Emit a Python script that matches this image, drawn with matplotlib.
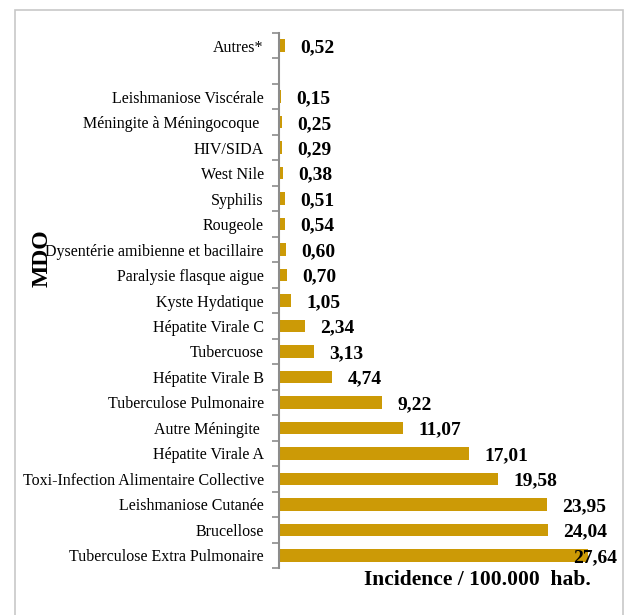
import matplotlib
matplotlib.use("Agg")
import matplotlib.pyplot as plt
from matplotlib.patches import Rectangle
import numpy as np

categories = [
    "Autres*", "",
    "Leishmaniose Viscérale", "Méningite à Méningocoque ", "HIV/SIDA", "West Nile",
    "Syphilis", "Rougeole", "Dysentérie amibienne et bacillaire", "Paralysie flasque aigue",
    "Kyste Hydatique", "Hépatite Virale C", "Tubercuose", "Hépatite Virale B",
    "Tuberculose Pulmonaire", "Autre Méningite ", "Hépatite Virale A",
    "Toxi-Infection Alimentaire Collective", "Leishmaniose Cutanée", "Brucellose",
    "Tuberculose Extra Pulmonaire",
]
values = [
    0.52, None,
    0.15, 0.25, 0.29, 0.38,
    0.51, 0.54, 0.60, 0.70,
    1.05, 2.34, 3.13, 4.74,
    9.22, 11.07, 17.01,
    19.58, 23.95, 24.04,
    27.64,
]
value_labels = [
    "0,52", "",
    "0,15", "0,25", "0,29", "0,38",
    "0,51", "0,54", "0,60", "0,70",
    "1,05", "2,34", "3,13", "4,74",
    "9,22", "11,07", "17,01",
    "19,58", "23,95", "24,04",
    "27,64",
]

plt.rcParams['font.family'] = ['Liberation Serif', 'DejaVu Serif']

W, H = 629, 615
fig = plt.figure(figsize=(W / 100, H / 100), dpi=100)
ax = fig.add_axes([279 / W, 1 - 568 / H, (617 - 279) / W, (568 - 33) / H])

bar_color = "#CC9A06"
ypos = np.arange(len(categories))
for y, v in zip(ypos, values):
    if v is not None:
        ax.barh(y, v, height=0.49, color=bar_color)

ax.set_xlim(0, 30.2)
ax.set_ylim(len(categories) - 0.5, -0.5)

ax.set_yticks(ypos)
ax.set_yticklabels(categories, fontsize=11.5)
ax.tick_params(axis='y', which='major', length=0, pad=11)
ax.set_yticks(np.arange(-0.5, len(categories)), minor=True)
ax.tick_params(axis='y', which='minor', length=5, width=1.2, color="#8c8c8c", direction='out')
ax.set_xticks([])

for s in ['top', 'right', 'bottom']:
    ax.spines[s].set_visible(False)
ax.spines['left'].set_color("#8c8c8c")
ax.spines['left'].set_linewidth(1.5)

texts = []
for y, v, lab in zip(ypos, values, value_labels):
    if v is not None:
        t = ax.annotate(lab, xy=(v, y), xytext=(11, -1.5), textcoords='offset points',
                        ha='left', va='center', fontsize=14, fontweight='bold')
        texts.append(t)

# keep labels inside the chart area (as the spreadsheet does)
fig.canvas.draw()
renderer = fig.canvas.get_renderer()
ax_right = ax.get_window_extent(renderer).x1
for t in texts:
    bb = t.get_window_extent(renderer)
    if bb.x1 > ax_right:
        dx, dy = t.xyann
        t.xyann = (dx - (bb.x1 - ax_right) / fig.dpi * 72, dy)

ax.set_ylabel("MDO", fontsize=17, fontweight='bold')
ax.yaxis.set_label_coords(-0.669, 0.579)
ax.set_xlabel("Incidence / 100.000  hab.", fontsize=15.5, fontweight='bold')
ax.xaxis.set_label_coords(0.586, -0.004)

fig.patches.append(Rectangle((15 / W, -0.02), (623 - 15) / W, 1 - 10 / H + 0.02,
                             transform=fig.transFigure, fill=False,
                             edgecolor="#c8c8c8", linewidth=1.2))

fig.savefig("out.png", dpi=100)
